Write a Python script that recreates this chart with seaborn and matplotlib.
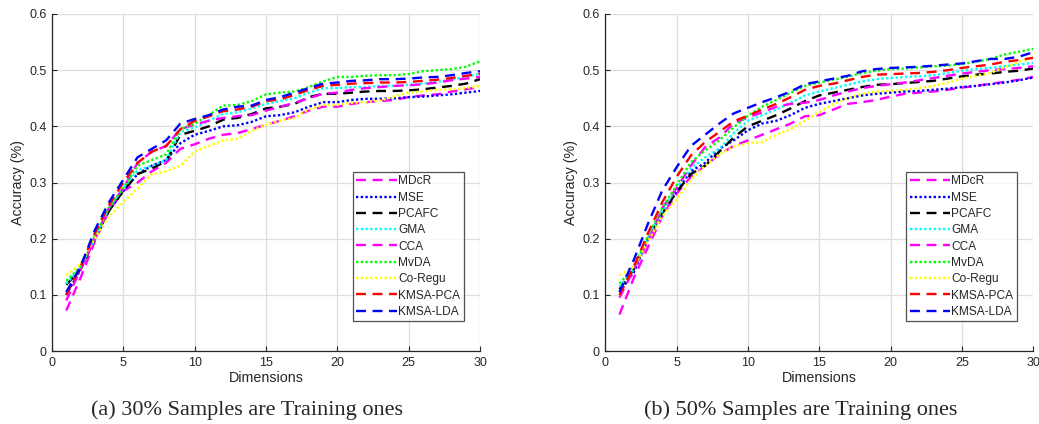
import numpy as np
import pandas as pd
import seaborn as sns
import matplotlib
matplotlib.use("Agg")
import matplotlib.pyplot as plt

dims = list(range(1, 31))
methods = ["MDcR", "MSE", "PCAFC", "GMA", "CCA", "MvDA", "Co-Regu", "KMSA-PCA", "KMSA-LDA"]

# ---- Panel (a): 30% training ----
a_mdcr = [0.072, 0.13, 0.195, 0.25, 0.285, 0.30, 0.32, 0.335, 0.36, 0.368, 0.378, 0.385, 0.388, 0.395, 0.403,
          0.41, 0.418, 0.428, 0.435, 0.435, 0.44, 0.443, 0.445, 0.447, 0.452, 0.455, 0.457, 0.462, 0.466, 0.47]
a_mse = [0.10, 0.145, 0.20, 0.25, 0.285, 0.315, 0.33, 0.34, 0.37, 0.385, 0.392, 0.40, 0.402, 0.408, 0.418,
         0.42, 0.425, 0.435, 0.443, 0.443, 0.447, 0.449, 0.449, 0.45, 0.452, 0.453, 0.455, 0.457, 0.46, 0.463]
a_pcafc = [0.118, 0.145, 0.20, 0.25, 0.285, 0.315, 0.325, 0.338, 0.385, 0.392, 0.40, 0.412, 0.415, 0.422, 0.432,
           0.435, 0.44, 0.452, 0.458, 0.458, 0.46, 0.462, 0.463, 0.463, 0.464, 0.466, 0.469, 0.472, 0.476, 0.484]
a_gma = [0.12, 0.148, 0.20, 0.255, 0.29, 0.322, 0.33, 0.34, 0.39, 0.398, 0.41, 0.422, 0.425, 0.432, 0.44,
         0.445, 0.45, 0.46, 0.468, 0.468, 0.47, 0.47, 0.472, 0.472, 0.474, 0.476, 0.479, 0.483, 0.488, 0.494]
a_cca = [0.09, 0.145, 0.20, 0.255, 0.29, 0.335, 0.355, 0.365, 0.395, 0.403, 0.41, 0.415, 0.418, 0.42, 0.428,
         0.435, 0.442, 0.45, 0.458, 0.46, 0.465, 0.468, 0.47, 0.472, 0.473, 0.475, 0.478, 0.482, 0.485, 0.488]
a_mvda = [0.125, 0.15, 0.205, 0.255, 0.29, 0.33, 0.34, 0.35, 0.395, 0.405, 0.42, 0.437, 0.438, 0.445, 0.457,
          0.46, 0.462, 0.47, 0.48, 0.488, 0.488, 0.49, 0.491, 0.491, 0.493, 0.498, 0.50, 0.502, 0.506, 0.516]
a_coregu = [0.135, 0.155, 0.20, 0.24, 0.265, 0.29, 0.315, 0.32, 0.33, 0.355, 0.365, 0.375, 0.378, 0.392, 0.403,
            0.41, 0.415, 0.43, 0.438, 0.438, 0.442, 0.443, 0.446, 0.453, 0.46, 0.462, 0.465, 0.466, 0.468, 0.472]
a_kpca = [0.10, 0.15, 0.21, 0.26, 0.30, 0.335, 0.355, 0.365, 0.395, 0.41, 0.418, 0.427, 0.43, 0.435, 0.445,
          0.448, 0.456, 0.465, 0.472, 0.474, 0.476, 0.477, 0.478, 0.478, 0.479, 0.481, 0.483, 0.486, 0.49, 0.493]
a_klda = [0.105, 0.15, 0.215, 0.265, 0.305, 0.345, 0.36, 0.375, 0.405, 0.413, 0.42, 0.43, 0.435, 0.437, 0.447,
          0.452, 0.46, 0.468, 0.476, 0.478, 0.481, 0.482, 0.484, 0.484, 0.485, 0.487, 0.488, 0.491, 0.495, 0.498]

# ---- Panel (b): 50% training ----
b_mdcr = [0.065, 0.13, 0.185, 0.24, 0.28, 0.31, 0.33, 0.35, 0.365, 0.375, 0.385, 0.395, 0.405, 0.418, 0.42,
          0.43, 0.44, 0.443, 0.447, 0.453, 0.458, 0.46, 0.462, 0.465, 0.469, 0.472, 0.476, 0.479, 0.483, 0.488]
b_mse = [0.105, 0.14, 0.20, 0.25, 0.285, 0.32, 0.335, 0.36, 0.375, 0.393, 0.405, 0.41, 0.42, 0.433, 0.44,
         0.445, 0.45, 0.455, 0.458, 0.46, 0.462, 0.463, 0.465, 0.467, 0.47, 0.472, 0.475, 0.478, 0.482, 0.487]
b_pcafc = [0.11, 0.145, 0.20, 0.245, 0.283, 0.315, 0.33, 0.355, 0.38, 0.40, 0.41, 0.42, 0.432, 0.445, 0.455,
           0.46, 0.465, 0.47, 0.474, 0.475, 0.477, 0.479, 0.481, 0.485, 0.489, 0.492, 0.494, 0.497, 0.499, 0.503]
b_gma = [0.115, 0.145, 0.20, 0.25, 0.29, 0.325, 0.345, 0.36, 0.388, 0.41, 0.42, 0.43, 0.442, 0.455, 0.462,
         0.468, 0.474, 0.48, 0.484, 0.486, 0.488, 0.489, 0.491, 0.495, 0.499, 0.502, 0.504, 0.507, 0.51, 0.513]
b_cca = [0.095, 0.145, 0.195, 0.255, 0.29, 0.33, 0.363, 0.38, 0.405, 0.416, 0.425, 0.435, 0.44, 0.442, 0.447,
         0.455, 0.462, 0.468, 0.472, 0.475, 0.478, 0.482, 0.486, 0.49, 0.494, 0.497, 0.50, 0.502, 0.504, 0.507]
b_mvda = [0.12, 0.15, 0.205, 0.255, 0.295, 0.336, 0.357, 0.375, 0.398, 0.419, 0.435, 0.447, 0.46, 0.472, 0.478,
          0.483, 0.488, 0.495, 0.499, 0.502, 0.503, 0.505, 0.507, 0.508, 0.511, 0.515, 0.52, 0.528, 0.533, 0.538]
b_coregu = [0.135, 0.15, 0.195, 0.24, 0.27, 0.305, 0.33, 0.35, 0.364, 0.37, 0.372, 0.385, 0.395, 0.41, 0.425,
            0.44, 0.45, 0.458, 0.462, 0.463, 0.465, 0.468, 0.472, 0.478, 0.485, 0.49, 0.495, 0.505, 0.515, 0.523]
b_kpca = [0.10, 0.15, 0.21, 0.265, 0.31, 0.348, 0.372, 0.39, 0.409, 0.419, 0.43, 0.44, 0.452, 0.465, 0.472,
          0.476, 0.482, 0.488, 0.492, 0.493, 0.494, 0.495, 0.497, 0.50, 0.504, 0.507, 0.51, 0.515, 0.518, 0.522]
b_klda = [0.105, 0.162, 0.227, 0.286, 0.327, 0.365, 0.385, 0.405, 0.423, 0.433, 0.443, 0.452, 0.462, 0.475, 0.48,
          0.485, 0.49, 0.498, 0.502, 0.504, 0.505, 0.506, 0.508, 0.51, 0.512, 0.516, 0.52, 0.52, 0.524, 0.532]

panel_a = [a_mdcr, a_mse, a_pcafc, a_gma, a_cca, a_mvda, a_coregu, a_kpca, a_klda]
panel_b = [b_mdcr, b_mse, b_pcafc, b_gma, b_cca, b_mvda, b_coregu, b_kpca, b_klda]

x_ticks = [0, 5, 10, 15, 20, 25, 30]
y_ticks = [0, 0.1, 0.2, 0.3, 0.4, 0.5, 0.6]
y_tick_labels = ["0", "0.1", "0.2", "0.3", "0.4", "0.5", "0.6"]
captions = ["(a) 30% Samples are Training ones", "(b) 50% Samples are Training ones"]
caption_x = [0.238, 0.771]

palette = {"MDcR": "#FF00FF", "MSE": "#0000FF", "PCAFC": "#000000", "GMA": "#00FFFF",
           "CCA": "#FF00FF", "MvDA": "#00FF00", "Co-Regu": "#FFFF00",
           "KMSA-PCA": "#FF0000", "KMSA-LDA": "#0000FF"}
dash = (4.2, 2.8)
dot = (1.0, 1.0)
dashes = {"MDcR": dash, "MSE": dot, "PCAFC": dash, "GMA": dot, "CCA": dash,
          "MvDA": dot, "Co-Regu": dot, "KMSA-PCA": dash, "KMSA-LDA": dash}

sns.set_theme(style="white")
plt.rcParams["font.family"] = ["Liberation Sans", "DejaVu Sans"]

fig = plt.figure(figsize=(10.39, 4.24), dpi=100)
axes = [fig.add_axes([0.050, 0.172, 0.412, 0.795]),
        fig.add_axes([0.5825, 0.172, 0.412, 0.795])]

for ax, series, cap, cx in zip(axes, [panel_a, panel_b], captions, caption_x):
    rows = []
    for m, vals in zip(methods, series):
        for d, v in zip(dims, vals):
            rows.append({"Dimensions": d, "Accuracy": v, "Method": m})
    df = pd.DataFrame(rows)
    sns.lineplot(data=df, x="Dimensions", y="Accuracy", hue="Method", style="Method",
                 hue_order=methods, style_order=methods, palette=palette, dashes=dashes,
                 linewidth=1.7, ax=ax, legend=True)
    ax.set_xlim(0, 30)
    ax.set_ylim(0, 0.6)
    ax.set_xticks(x_ticks)
    ax.set_yticks(y_ticks)
    ax.set_yticklabels(y_tick_labels)
    ax.grid(True, color="#dedede", linewidth=0.9)
    ax.set_axisbelow(True)
    for s in ["top", "right"]:
        ax.spines[s].set_visible(False)
    for s in ["left", "bottom"]:
        ax.spines[s].set_color("#262626")
        ax.spines[s].set_linewidth(0.9)
    ax.tick_params(direction="in", length=3.5, width=0.8, colors="#262626",
                   labelsize=9, pad=4, bottom=True, left=True)
    ax.set_xlabel("Dimensions", fontsize=10.3, color="#262626", labelpad=2)
    ax.set_ylabel("Accuracy (%)", fontsize=10.3, color="#262626", labelpad=3)
    handles, labels = ax.get_legend_handles_labels()
    leg = ax.legend(handles, labels, loc="lower right", bbox_to_anchor=(0.962, 0.088),
                    fontsize=8.6, frameon=True, fancybox=False, edgecolor="#262626",
                    handlelength=3.4, handletextpad=0.1, labelspacing=0.36,
                    borderpad=0.3, borderaxespad=0.0)
    leg.get_frame().set_linewidth(0.9)
    for line in leg.get_lines():
        line.set_linewidth(1.7)
    fig.text(cx, 0.033, cap, ha="center", va="center",
             fontsize=16, family=["Liberation Serif", "DejaVu Serif"])

fig.savefig("out.png", dpi=100)
